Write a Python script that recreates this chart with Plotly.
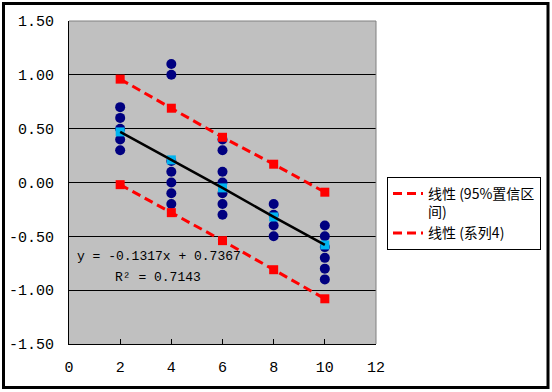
import plotly.graph_objects as go

# ---- data ----
pt_x = [2, 2, 2, 2, 2,
        4, 4, 4, 4, 4, 4, 4,
        6, 6, 6, 6, 6, 6, 6,
        8, 8, 8, 8,
        10, 10, 10, 10, 10, 10]
pt_y = [0.7, 0.6, 0.5, 0.4, 0.3,
        1.1, 1.0, 0.2, 0.1, 0.0, -0.1, -0.2,
        0.4, 0.3, 0.1, 0.0, -0.1, -0.2, -0.3,
        -0.2, -0.3, -0.4, -0.5,
        -0.4, -0.5, -0.6, -0.7, -0.8, -0.9]

fit_x = [2, 4, 6, 8, 10]
fit_y = [0.47, 0.21, -0.05, -0.32, -0.58]
upper_y = [0.96, 0.69, 0.42, 0.17, -0.09]
lower_y = [-0.02, -0.28, -0.54, -0.81, -1.08]

y_ticks = [-1.5, -1.0, -0.5, 0.0, 0.5, 1.0, 1.5]
x_ticks = [0, 2, 4, 6, 8, 10, 12]

eq_text = "y = -0.1317x + 0.7367"
r2_text = "R² = 0.7143"
legend_ci = "线性 (95%置信区<br>间)"
legend_s4 = "线性 (系列4)"

NAVY = "#000080"
CYAN = "#00B4F0"
RED = "#FF0000"
NUMFONT = "Liberation Mono"

fig = go.Figure()

fig.add_trace(go.Scatter(x=pt_x, y=pt_y, mode="markers",
                         marker=dict(symbol="circle", size=10, color=NAVY),
                         showlegend=False, hoverinfo="skip"))
fig.add_trace(go.Scatter(x=fit_x, y=fit_y, mode="markers",
                         marker=dict(symbol="square", size=9, color=CYAN),
                         showlegend=False, hoverinfo="skip"))
fig.add_trace(go.Scatter(x=fit_x, y=fit_y, mode="lines",
                         line=dict(color="black", width=2.5),
                         showlegend=False, hoverinfo="skip"))
fig.add_trace(go.Scatter(x=fit_x, y=upper_y, mode="lines",
                         line=dict(color=RED, width=3, dash="9px,5px"),
                         name=legend_ci, showlegend=True))
fig.add_trace(go.Scatter(x=fit_x, y=lower_y, mode="lines",
                         line=dict(color=RED, width=3, dash="9px,5px"),
                         name=legend_s4, showlegend=True))
fig.add_trace(go.Scatter(x=fit_x + fit_x, y=upper_y + lower_y, mode="markers",
                         marker=dict(symbol="square", size=9, color=RED),
                         showlegend=False, hoverinfo="skip"))

L, R, T, B = 69, 376, 21, 344
W, H = 552, 392
pw, ph = R - L, B - T


def px(x):
    return (x - L) / pw


def py(y):
    return (B - y) / ph


fig.update_layout(
    width=W, height=H,
    margin=dict(l=L, r=W - R, t=T, b=H - B, pad=0, autoexpand=False),
    paper_bgcolor="white",
    plot_bgcolor="#C0C0C0",
    font=dict(family=NUMFONT, size=15, color="black"),
    xaxis=dict(range=[0, 12], tickvals=x_ticks, ticktext=[str(v) for v in x_ticks],
               showgrid=False, zeroline=False, automargin=False,
               showline=True, linecolor="black", linewidth=1,
               ticks="inside", ticklen=5, tickcolor="black", tickwidth=1,
               ticklabelstandoff=9,
               tickfont=dict(family=NUMFONT, size=15, color="black")),
    yaxis=dict(range=[-1.5, 1.5], tickvals=y_ticks,
               ticktext=[f"{v:.2f}" for v in y_ticks],
               showgrid=True, gridcolor="black", gridwidth=1, zeroline=False,
               automargin=False,
               showline=True, linecolor="black", linewidth=1,
               ticks="", ticklabelstandoff=11,
               tickfont=dict(family=NUMFONT, size=15, color="black")),
    legend=dict(x=px(387), y=py(177), xanchor="left", yanchor="top",
                bgcolor="white", bordercolor="black", borderwidth=1,
                font=dict(family="Noto Sans CJK SC", size=14, color="black"),
                valign="top", tracegroupgap=6, itemwidth=30),
    showlegend=True,
)

# plot-area top/right border in gray
fig.add_shape(type="line", xref="paper", yref="paper", x0=0, x1=1, y0=1, y1=1,
              line=dict(color="#808080", width=1), layer="above")
fig.add_shape(type="line", xref="paper", yref="paper", x0=1, x1=1, y0=0, y1=1,
              line=dict(color="#808080", width=1), layer="above")

# outer thick frame
fig.add_shape(type="rect", xref="paper", yref="paper",
              x0=px(3.5), x1=px(548), y0=py(387.5), y1=py(3.5),
              line=dict(color="black", width=3), layer="above")

fig.add_annotation(x=0.23, y=-0.69, xref="x", yref="y", text=eq_text,
                   showarrow=False, xanchor="left", yanchor="middle",
                   font=dict(family=NUMFONT, size=13, color="black"))
fig.add_annotation(x=1.72, y=-0.88, xref="x", yref="y", text=r2_text,
                   showarrow=False, xanchor="left", yanchor="middle",
                   font=dict(family=NUMFONT, size=13, color="black"))

fig.write_html("out.html",
               config={"displayModeBar": False},
               post_script="document.body.style.margin='0';document.body.style.padding='0';")
